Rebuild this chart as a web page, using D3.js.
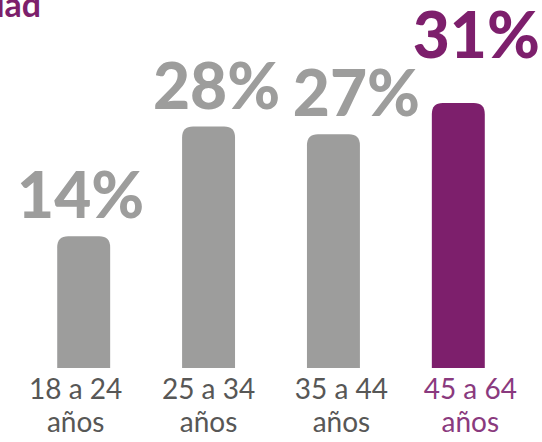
<!DOCTYPE html>
<html><head><meta charset="utf-8">
<script src="https://cdn.jsdelivr.net/npm/d3@7"></script>
<style>html,body{margin:0;padding:0;background:#fff;overflow:hidden}</style>
</head><body>
<script>
const categories = ["18 a 24", "25 a 34", "35 a 44", "45 a 64"];
const categorySub = ["años", "años", "años", "años"];
const values = [14, 28, 27, 31];
const highlight = [false, false, false, true];

const W = 542, H = 442;
const gray = "#9d9d9c", purple = "#7d1f6c", textGray = "#575756";
const svg = d3.select("body").append("svg").attr("width", W).attr("height", H);

const baseline = 368;
const x = d3.scaleBand().domain(categories).range([21, 521]).paddingInner(0.576).paddingOuter(0.29);
const y = d3.scaleLinear().domain([-2.8, 31]).range([baseline, 103]);

// cut-off title (only its last letters show in the corner)
svg.append("text").attr("x", 41).attr("y", 17).attr("text-anchor", "end")
  .attr("font-family", "Lato, 'Open Sans', sans-serif").attr("font-weight", 700)
  .attr("font-size", 34).attr("fill", purple).text("edad");

const r = 11;
function barPath(x0, w, top, bot) {
  return `M${x0},${bot}V${top + r}Q${x0},${top} ${x0 + r},${top}H${x0 + w - r}Q${x0 + w},${top} ${x0 + w},${top + r}V${bot}Z`;
}

const valNudge = [-3, 8, 23, 18];
const catNudge = [-8, 0, 8, 12];

const g = svg.append("g");
g.selectAll("path.bar").data(values).join("path").attr("class", "bar")
  .attr("d", (d, i) => barPath(x(categories[i]), x.bandwidth(), y(d), baseline))
  .attr("fill", (d, i) => highlight[i] ? purple : gray);

g.selectAll("text.val").data(values).join("text").attr("class", "val")
  .attr("x", (d, i) => x(categories[i]) + x.bandwidth() / 2 + valNudge[i])
  .attr("y", (d, i) => y(d) - (highlight[i] ? 45 : 18))
  .attr("text-anchor", "middle")
  .attr("font-family", "Lato, 'Open Sans', sans-serif").attr("font-weight", 900)
  .attr("font-size", 64)
  .attr("fill", (d, i) => highlight[i] ? purple : gray)
  .text(d => d + "%");

const lab = g.selectAll("text.cat").data(categories).join("text").attr("class", "cat")
  .attr("text-anchor", "middle")
  .attr("font-family", "Lato, 'Open Sans', sans-serif").attr("font-weight", 400).attr("font-size", 28)
  .attr("fill", (d, i) => highlight[i] ? "#8a3a7e" : textGray);
lab.append("tspan").attr("x", (d, i) => x(d) + x.bandwidth() / 2 + catNudge[i]).attr("y", 399).text(d => d);
lab.append("tspan").attr("x", (d, i) => x(d) + x.bandwidth() / 2 + catNudge[i]).attr("y", 432).text((d, i) => categorySub[i]);
</script>
</body></html>
